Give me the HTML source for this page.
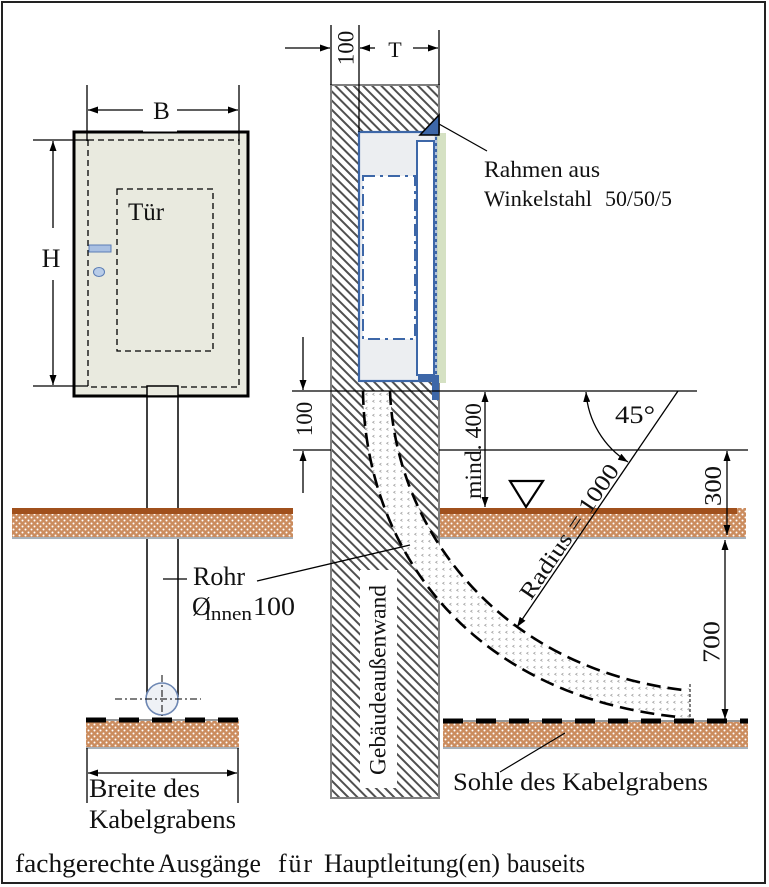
<!DOCTYPE html>
<html><head><meta charset="utf-8"><style>
html,body{margin:0;padding:0;background:#fff;}
svg{display:block;}
text{font-family:"Liberation Serif",serif;fill:#111;}
</style></head><body>
<svg width="769" height="887" viewBox="0 0 769 887" xmlns="http://www.w3.org/2000/svg">
<defs>
<marker id="ar" viewBox="0 0 10 7" refX="10" refY="3.5" markerWidth="10" markerHeight="7" markerUnits="userSpaceOnUse" orient="auto-start-reverse"><path d="M0,0 L10,3.5 L0,7 z" fill="#000"/></marker>
<pattern id="hatch" width="6.5" height="10" patternUnits="userSpaceOnUse" patternTransform="rotate(-45)"><rect width="6.5" height="10" fill="#fff"/><rect width="2" height="10" fill="#505050"/></pattern>
<pattern id="soil" width="6" height="6" patternUnits="userSpaceOnUse"><rect width="6" height="6" fill="#cb8c5e"/><circle cx="1.5" cy="1.5" r="1" fill="#fff"/><circle cx="4.5" cy="4.5" r="1" fill="#fff"/></pattern>
<pattern id="pdots" width="7" height="7" patternUnits="userSpaceOnUse"><rect width="7" height="7" fill="#fff"/><path d="M3.5,1 L1.6,2.2 L3.5,3.4" fill="none" stroke="#9a9a9a" stroke-width="0.7"/></pattern>
</defs>

<!-- frame -->
<rect x="2" y="2" width="763" height="881" fill="#fff" stroke="#222" stroke-width="2"/>

<!-- ===== Door front view ===== -->
<rect x="74" y="132" width="174" height="264" fill="#e9eadf" stroke="#000" stroke-width="3"/>
<rect x="88" y="140" width="151" height="247" fill="none" stroke="#000" stroke-width="1.3" stroke-dasharray="6,4"/>
<rect x="117" y="189" width="96" height="162" fill="none" stroke="#000" stroke-width="1.3" stroke-dasharray="6,4"/>
<text x="128" y="220" font-size="25">Tür</text>
<rect x="89" y="245" width="22" height="7" fill="#a9c0e2" stroke="#5b7db5" stroke-width="1"/>
<ellipse cx="99" cy="272" rx="5.5" ry="4.5" fill="#b8cce8" stroke="#5b7db5" stroke-width="1"/>

<!-- B dimension -->
<line x1="87" y1="85" x2="87" y2="141" stroke="#000" stroke-width="1.3"/>
<line x1="239" y1="85" x2="239" y2="141" stroke="#000" stroke-width="1.3"/>
<rect x="143" y="96" width="34" height="35.5" fill="#fff"/>
<line x1="143" y1="110" x2="88" y2="110" stroke="#000" stroke-width="1.3" marker-end="url(#ar)"/>
<line x1="177" y1="110" x2="238" y2="110" stroke="#000" stroke-width="1.3" marker-end="url(#ar)"/>
<text x="161.5" y="119" font-size="25" text-anchor="middle">B</text>

<!-- H dimension -->
<line x1="33" y1="140" x2="88" y2="140" stroke="#000" stroke-width="1.3"/>
<line x1="33" y1="386" x2="88" y2="386" stroke="#000" stroke-width="1.3"/>
<line x1="53" y1="228" x2="53" y2="141" stroke="#000" stroke-width="1.3" marker-end="url(#ar)"/>
<line x1="53" y1="280" x2="53" y2="385" stroke="#000" stroke-width="1.3" marker-end="url(#ar)"/>
<text x="51" y="267" font-size="26" text-anchor="middle">H</text>

<!-- vertical pipe (front) -->
<line x1="147" y1="396" x2="147" y2="697" stroke="#000" stroke-width="1.5"/>
<line x1="178" y1="396" x2="178" y2="697" stroke="#000" stroke-width="1.5"/>
<rect x="147" y="386" width="31" height="10" fill="#e9eadf" stroke="#000" stroke-width="1.5"/>

<!-- left ground strip -->
<rect x="12" y="508" width="281" height="30" fill="url(#soil)"/>
<rect x="12" y="508" width="281" height="6" fill="#a0501c"/>
<line x1="12" y1="538" x2="293" y2="538" stroke="#a8b0b8" stroke-width="2"/>

<!-- Rohr label text -->
<line x1="163" y1="579" x2="187" y2="579" stroke="#000" stroke-width="1.3"/>
<text x="193" y="585" font-size="26" textLength="52" lengthAdjust="spacingAndGlyphs">Rohr</text>
<text x="192" y="615" font-size="26">Ø</text>
<text x="205" y="620" font-size="19" textLength="47" lengthAdjust="spacingAndGlyphs">innen</text>
<text x="253" y="615" font-size="26" textLength="42" lengthAdjust="spacingAndGlyphs">100</text>

<!-- pipe cross-section circle -->
<circle cx="162" cy="699" r="16" fill="#eef1f6" stroke="#6d87b3" stroke-width="1.6"/>
<line x1="115" y1="699" x2="201" y2="699" stroke="#000" stroke-width="1" stroke-dasharray="7,3,2,3"/>
<line x1="162" y1="675" x2="162" y2="716" stroke="#000" stroke-width="1" stroke-dasharray="7,3,2,3"/>

<!-- left trench -->
<rect x="86" y="721" width="153" height="27" fill="url(#soil)"/>
<line x1="86" y1="748" x2="239" y2="748" stroke="#a8b0b8" stroke-width="2"/>
<line x1="86" y1="720" x2="239" y2="720" stroke="#777" stroke-width="1.5"/>
<line x1="86" y1="720" x2="239" y2="720" stroke="#000" stroke-width="5" stroke-dasharray="20,13"/>

<!-- Breite dimension -->
<line x1="87" y1="748" x2="87" y2="803" stroke="#000" stroke-width="1.3"/>
<line x1="238" y1="748" x2="238" y2="803" stroke="#000" stroke-width="1.3"/>
<line x1="88" y1="773" x2="237" y2="773" stroke="#000" stroke-width="1.3" marker-start="url(#ar)" marker-end="url(#ar)"/>
<text x="89" y="797" font-size="26" textLength="111" lengthAdjust="spacingAndGlyphs">Breite des</text>
<text x="89" y="828" font-size="26" textLength="147" lengthAdjust="spacingAndGlyphs">Kabelgrabens</text>

<!-- ===== Wall section ===== -->
<rect x="331" y="85" width="108" height="713" fill="url(#hatch)" stroke="#7f7f7f" stroke-width="2"/>

<!-- niche -->
<rect x="437" y="133" width="9" height="250" fill="#d5e1c3"/>
<rect x="359" y="132" width="77" height="249" fill="#eceef1" stroke="#3d67a8" stroke-width="2.2"/>
<rect x="363" y="176" width="52" height="163" fill="#fff" stroke="#3d67a8" stroke-width="2" stroke-dasharray="12,5,3,5"/>
<rect x="417" y="141" width="17" height="234" fill="#fff" stroke="#3d67a8" stroke-width="2"/>
<line x1="436" y1="134" x2="436" y2="380" stroke="#fff" stroke-width="1.2" stroke-dasharray="3,3"/>
<polygon points="420,135 439,135 439,115" fill="#3d67a8" stroke="#000" stroke-width="1.5"/>
<polygon points="418,375 439,375 439,400 432,400 432,381 418,381" fill="#3d67a8"/>

<!-- top dims -->
<line x1="331" y1="25" x2="331" y2="85" stroke="#000" stroke-width="1.3"/>
<line x1="359" y1="25" x2="359" y2="132" stroke="#000" stroke-width="1.3"/>
<line x1="439" y1="30" x2="439" y2="85" stroke="#000" stroke-width="1.3"/>
<line x1="285" y1="48" x2="330" y2="48" stroke="#000" stroke-width="1.3" marker-end="url(#ar)"/>
<text transform="translate(353.5,48) rotate(-90)" font-size="23" text-anchor="middle">100</text>
<line x1="375" y1="48" x2="360" y2="48" stroke="#000" stroke-width="1.3" marker-end="url(#ar)"/>
<line x1="413" y1="48" x2="438" y2="48" stroke="#000" stroke-width="1.3" marker-end="url(#ar)"/>
<text x="395" y="57" font-size="22" text-anchor="middle">T</text>

<!-- Rahmen label -->
<line x1="439" y1="124" x2="487" y2="151" stroke="#000" stroke-width="1.2"/>
<text x="484" y="177" font-size="23.5" textLength="116" lengthAdjust="spacingAndGlyphs">Rahmen aus</text>
<text x="484" y="206" font-size="22.5" textLength="108" lengthAdjust="spacingAndGlyphs">Winkelstahl</text>
<text x="605" y="206" font-size="22.5" textLength="67" lengthAdjust="spacingAndGlyphs">50/50/5</text>

<!-- Gebäudeaußenwand label box -->
<rect x="360" y="570" width="37" height="218" fill="#fff"/>
<text transform="translate(385.5,680) rotate(-90)" font-size="23" text-anchor="middle" textLength="190" lengthAdjust="spacingAndGlyphs">Gebäudeaußenwand</text>

<!-- curved pipe -->
<path d="M363,391 C365,550 470,695 678,717 L690,718 L690,688 L683,690 C500,668 395,530 390,391 Z" fill="url(#pdots)"/>
<path d="M363,391 C365,550 470,695 678,717" fill="none" stroke="#000" stroke-width="2.6" stroke-dasharray="14,7"/>
<path d="M390,391 C395,530 500,668 683,690" fill="none" stroke="#000" stroke-width="2.6" stroke-dasharray="14,7"/>
<line x1="690" y1="684" x2="690" y2="718" stroke="#000" stroke-width="1" stroke-dasharray="3,2"/>

<!-- Rohr leader (over wall) -->
<line x1="257" y1="581" x2="410" y2="545" stroke="#000" stroke-width="1.3"/>

<!-- horizontal reference lines -->
<line x1="292" y1="391" x2="697" y2="391" stroke="#000" stroke-width="1.3"/>
<line x1="293" y1="450" x2="331" y2="450" stroke="#000" stroke-width="1.3"/>
<line x1="439" y1="450" x2="748" y2="450" stroke="#000" stroke-width="1.3"/>

<!-- lower left 100 -->
<line x1="303" y1="337" x2="303" y2="390" stroke="#000" stroke-width="1.3" marker-end="url(#ar)"/>
<line x1="303" y1="493" x2="303" y2="451" stroke="#000" stroke-width="1.3" marker-end="url(#ar)"/>
<text transform="translate(312,419) rotate(-90)" font-size="23" text-anchor="middle">100</text>

<!-- mind. 400 -->
<line x1="485" y1="392" x2="485" y2="507" stroke="#000" stroke-width="1.3" marker-start="url(#ar)" marker-end="url(#ar)"/>
<text transform="translate(481,451) rotate(-90)" font-size="23" text-anchor="middle" textLength="96" lengthAdjust="spacingAndGlyphs">mind. 400</text>

<!-- right ground strip -->
<rect x="440" y="508" width="306" height="30" fill="url(#soil)"/>
<rect x="440" y="508" width="297" height="6" fill="#a0501c"/>
<line x1="440" y1="538" x2="746" y2="538" stroke="#a8b0b8" stroke-width="2"/>
<polygon points="510,481 543,481 526,507" fill="#fff" stroke="#000" stroke-width="2.2"/>

<!-- 45 deg / radius -->
<line x1="678" y1="391" x2="517" y2="627" stroke="#000" stroke-width="1.3" marker-end="url(#ar)"/>
<path d="M586,392 A90,90 0 0 0 628,462" fill="none" stroke="#000" stroke-width="1.3" marker-start="url(#ar)" marker-end="url(#ar)"/>
<text x="615" y="423" font-size="25" textLength="40" lengthAdjust="spacingAndGlyphs">45°</text>
<text transform="translate(531,601) rotate(-55.7)" font-size="23" textLength="158" lengthAdjust="spacingAndGlyphs">Radius = 1000</text>

<!-- right trench sole -->
<rect x="443" y="722" width="305" height="26" fill="url(#soil)"/>
<line x1="443" y1="748" x2="748" y2="748" stroke="#a8b0b8" stroke-width="2"/>
<line x1="443" y1="721" x2="748" y2="721" stroke="#777" stroke-width="1.5"/>
<line x1="443" y1="721" x2="748" y2="721" stroke="#000" stroke-width="5" stroke-dasharray="20,13"/>

<!-- right dims -->
<line x1="727" y1="451" x2="727" y2="535" stroke="#000" stroke-width="1.3" marker-start="url(#ar)" marker-end="url(#ar)"/>
<text transform="translate(721,486) rotate(-90)" font-size="24" text-anchor="middle" textLength="40" lengthAdjust="spacingAndGlyphs">300</text>
<line x1="725" y1="540" x2="725" y2="719" stroke="#000" stroke-width="1.3" marker-start="url(#ar)" marker-end="url(#ar)"/>
<text transform="translate(719.5,642) rotate(-90)" font-size="24" text-anchor="middle" textLength="42" lengthAdjust="spacingAndGlyphs">700</text>

<!-- Sohle label -->
<line x1="500" y1="772" x2="565" y2="733" stroke="#000" stroke-width="1.2"/>
<text x="453" y="790" font-size="25" textLength="255" lengthAdjust="spacingAndGlyphs">Sohle des Kabelgrabens</text>

<!-- footer -->
<text x="15" y="872" font-size="26" textLength="140" lengthAdjust="spacingAndGlyphs">fachgerechte</text>
<text x="158" y="872" font-size="26" textLength="103" lengthAdjust="spacingAndGlyphs">Ausgänge</text>
<text x="278" y="872" font-size="26" textLength="34" lengthAdjust="spacing">für</text>
<text x="324" y="872" font-size="26" textLength="176" lengthAdjust="spacingAndGlyphs">Hauptleitung(en)</text>
<text x="507" y="872" font-size="26" textLength="78" lengthAdjust="spacingAndGlyphs">bauseits</text>
</svg>
</body></html>
